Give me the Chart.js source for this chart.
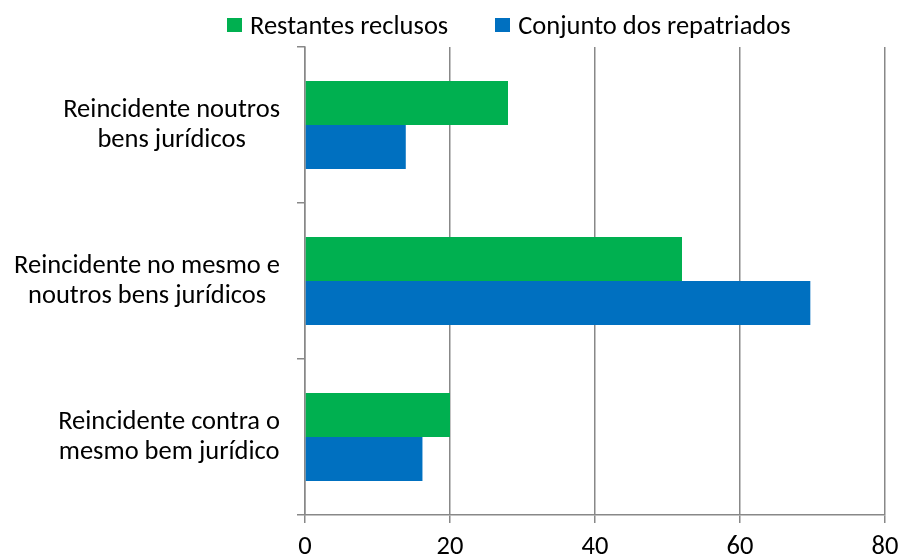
<!DOCTYPE html>
<html>
<head>
<meta charset="utf-8">
<title>Reincidência</title>
<script src="https://cdn.jsdelivr.net/npm/chart.js@4.4.1/dist/chart.umd.min.js"></script>
<style>
  html, body { margin: 0; padding: 0; background: #fff; }
  #wrap { position: relative; width: 901px; height: 560px; }
  #legend {
    position: absolute; top: 9px; left: 227px;
    display: flex; gap: 47px;
    font: 26.5px Carlito, Lato, sans-serif; color: #000;
  }
  .leg-item { display: flex; align-items: center; }
  .leg-box { width: 15px; height: 14px; margin-right: 8px; }
</style>
</head>
<body>
<div id="wrap">
  <div id="legend"></div>
  <canvas id="chart" width="901" height="560"></canvas>
</div>
<script>
// --- data ---
const categories = [
    ['Reincidente noutros', 'bens jurídicos'],
    ['Reincidente no mesmo e', 'noutros bens jurídicos'],
    ['Reincidente contra o', 'mesmo bem jurídico']
];
const seriesNames = ['Restantes reclusos', 'Conjunto dos repatriados'];
const restantes = [28, 52, 20];
const repatriados = [13.9, 69.7, 16.2];
const xTicks = [0, 20, 40, 60, 80];

const colors = ['#00B050', '#0070C0'];
const gridColor = '#888888';
const fontFamily = 'Carlito, Lato, sans-serif';
const fontSize = 26.5;

// HTML legend
const legendEl = document.getElementById('legend');
seriesNames.forEach((name, i) => {
    const item = document.createElement('div');
    item.className = 'leg-item';
    item.innerHTML = '<span class="leg-box" style="background:' + colors[i] + '"></span><span>' + name + '</span>';
    legendEl.appendChild(item);
});

// category labels: each block centred on itself, blocks right-aligned
const yLabels = {
    id: 'yLabels',
    afterDraw(chart) {
        const scale = chart.scales.y;
        const ctx = chart.ctx;
        const lineH = 30;
        ctx.save();
        ctx.font = fontSize + 'px ' + fontFamily;
        ctx.fillStyle = '#000';
        ctx.textAlign = 'center';
        ctx.textBaseline = 'middle';
        scale.ticks.forEach((t, i) => {
            const lines = chart.data.labels[i];
            const w = Math.max(...lines.map(l => ctx.measureText(l).width));
            const cx = scale.right - 25 - w / 2;
            const cy = scale.getPixelForTick(i);
            lines.forEach((l, k) => {
                ctx.fillText(l, cx, cy + (k - (lines.length - 1) / 2) * lineH);
            });
        });
        ctx.restore();
    }
};

new Chart(document.getElementById('chart'), {
    type: 'bar',
    data: {
        labels: categories,
        datasets: [
            { label: seriesNames[0], data: restantes, backgroundColor: colors[0] },
            { label: seriesNames[1], data: repatriados, backgroundColor: colors[1] }
        ]
    },
    options: {
        indexAxis: 'y',
        responsive: false,
        animation: false,
        datasets: { bar: { categoryPercentage: 0.564, barPercentage: 1 } },
        layout: { padding: { top: 47, right: 16, left: 0, bottom: 0 } },
        plugins: { legend: { display: false }, tooltip: { enabled: false } },
        scales: {
            x: {
                min: xTicks[0],
                max: xTicks[xTicks.length - 1],
                ticks: { stepSize: 20, color: '#000', padding: 8, font: { family: fontFamily, size: fontSize } },
                grid: { color: gridColor, lineWidth: 1.5, tickLength: 8 },
                border: { color: gridColor, width: 1.5 },
                afterFit: s => {
                    s.height = 45;
                    s.paddingLeft = 0;
                    s.paddingRight = 0;
                }
            },
            y: {
                ticks: { display: false },
                grid: { drawOnChartArea: false, tickLength: 8, color: gridColor, lineWidth: 1.5, offset: true },
                border: { color: gridColor, width: 1.5 },
                afterFit: s => { s.width = 305; }
            }
        }
    },
    plugins: [yLabels]
});
</script>
</body>
</html>
